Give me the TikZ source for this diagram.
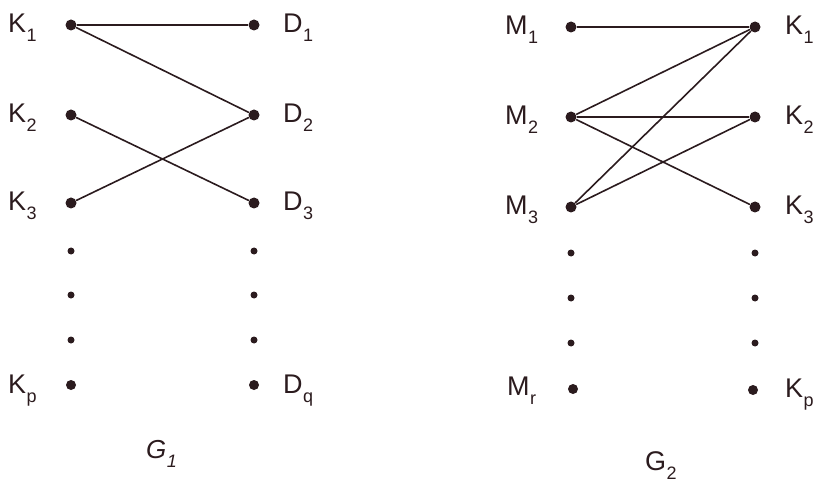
\documentclass[tikz,border=0pt]{standalone}
\usepackage{fontspec}
\setmainfont{Liberation Sans}
\definecolor{ink}{HTML}{2B1B1E}
\newcommand\lsub[1]{\kern0.5pt\raisebox{-9pt}{\fontsize{18}{18}\selectfont #1}}
\begin{document}
\begin{tikzpicture}[x=1pt,y=-1pt,
 vtx/.style={circle,fill=ink,inner sep=0pt,minimum size=11pt},
 ell/.style={circle,fill=ink,inner sep=0pt,minimum size=7pt},
 lbl/.style={anchor=base west,inner sep=0pt,text=ink,font=\fontsize{27}{32}\selectfont},
 glbl/.style={lbl,font=\itshape\fontsize{26}{30}\selectfont},
 edge/.style={draw=ink,line width=1.6pt}]
\useasboundingbox (0,0) rectangle (813,486);
% left graph
\node[vtx] (k1) at (71,25) {};
\node[vtx] (k2) at (71,115) {};
\node[vtx] (k3) at (71,203) {};
\node[ell] (ka) at (71,251) {};
\node[ell] (kb) at (71,295) {};
\node[ell] (kc) at (71,340) {};
\node[vtx,minimum size=10pt] (kp) at (71,385) {};
\node[vtx] (d1) at (254,25) {};
\node[vtx] (d2) at (254,115) {};
\node[vtx] (d3) at (254,203) {};
\node[ell] (da) at (254,251) {};
\node[ell] (db) at (254,295) {};
\node[ell] (dc) at (254,340) {};
\node[vtx,minimum size=10pt] (dq) at (254,385) {};
\node[lbl] (lk1) at (8,33) {K\lsub{1}};
\node[lbl] (lk2) at (8,123) {K\lsub{2}};
\node[lbl] (lk3) at (8,211) {K\lsub{3}};
\node[lbl] (lkp) at (8,393) {K\lsub{p}};
\node[lbl] (ld1) at (283,33) {D\lsub{1}};
\node[lbl] (ld2) at (283,123) {D\lsub{2}};
\node[lbl] (ld3) at (283,211) {D\lsub{3}};
\node[lbl] (ldq) at (283,393) {D\lsub{q}};
\node[glbl] (g1) at (146,458) {G\lsub{1}};
\draw[edge] (k1) -- (d1);
\draw[edge] (k1) -- (d2);
\draw[edge] (k2) -- (d3);
\draw[edge] (k3) -- (d2);
% right graph
\node[vtx] (m1) at (571,27) {};
\node[vtx] (m2) at (571,117) {};
\node[vtx] (m3) at (571,207) {};
\node[ell] (ma) at (571,253) {};
\node[ell] (mb) at (571,298) {};
\node[ell] (mc) at (571,343) {};
\node[vtx,minimum size=10pt] (mr) at (573,389) {};
\node[vtx] (r1) at (755,27) {};
\node[vtx] (r2) at (755,117) {};
\node[vtx] (r3) at (755,207) {};
\node[ell] (ra) at (755,253) {};
\node[ell] (rb) at (755,298) {};
\node[ell] (rc) at (755,343) {};
\node[vtx,minimum size=10pt] (rp) at (753,390) {};
\node[lbl] (lm1) at (505,35) {M\lsub{1}};
\node[lbl] (lm2) at (505,125) {M\lsub{2}};
\node[lbl] (lm3) at (505,215) {M\lsub{3}};
\node[lbl] (lmr) at (507,395) {M\lsub{r}};
\node[lbl] (lr1) at (785,35) {K\lsub{1}};
\node[lbl] (lr2) at (785,125) {K\lsub{2}};
\node[lbl] (lr3) at (785,215) {K\lsub{3}};
\node[lbl] (lrp) at (785,397) {K\lsub{p}};
\node[lbl] (g2) at (645,470) {G\lsub{2}};
\draw[edge] (m1) -- (r1);
\draw[edge] (m2) -- (r1);
\draw[edge] (m2) -- (r2);
\draw[edge] (m2) -- (r3);
\draw[edge] (m3) -- (r1);
\draw[edge] (m3) -- (r2);
\end{tikzpicture}
\end{document}
